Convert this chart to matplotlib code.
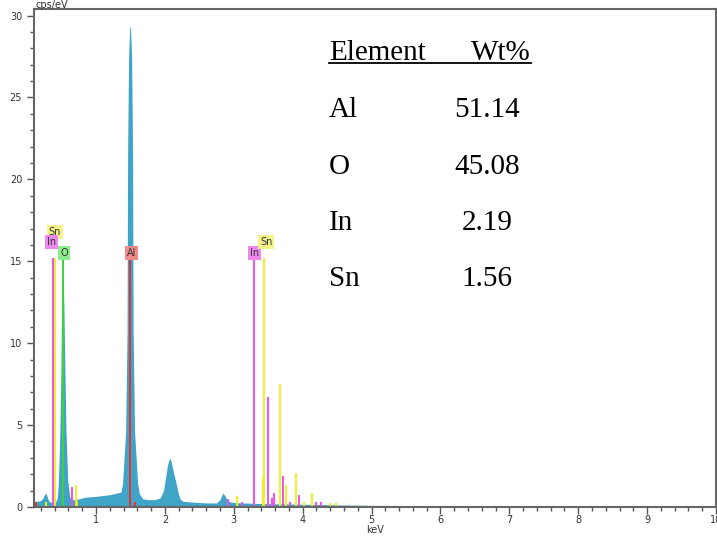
import matplotlib
matplotlib.use('Agg')
import matplotlib.pyplot as plt
from matplotlib.lines import Line2D
from matplotlib.ticker import MultipleLocator

# spectrum (keV, cps/eV)
energy = [0.10, 0.16, 0.20, 0.23, 0.25, 0.27, 0.29, 0.31, 0.33, 0.38, 0.42, 0.44, 0.455,
          0.475, 0.49, 0.50, 0.51, 0.525, 0.535, 0.55, 0.565, 0.59, 0.62, 0.65, 0.70, 0.75,
          0.85, 1.00, 1.10, 1.20, 1.30, 1.36, 1.385, 1.43, 1.451, 1.459, 1.473, 1.49,
          1.50, 1.517, 1.531, 1.539, 1.56, 1.605, 1.63, 1.68, 1.75, 1.85, 1.93, 1.98, 2.01,
          2.04, 2.07, 2.09, 2.12, 2.16, 2.19, 2.22, 2.26, 2.40, 2.60, 2.75, 2.80,
          2.84, 2.87, 2.90, 2.95, 3.10, 3.50, 4.00, 4.50, 5.00, 6.00, 7.00, 8.00,
          9.00, 10.0]
counts = [0.35, 0.35, 0.40, 0.55, 0.75, 0.85, 0.65, 0.40, 0.30, 0.30, 0.35, 0.60, 1.6,
          4.5, 8.0, 12.0, 14.0, 14.0, 12.0, 8.0, 4.5, 1.6, 0.60, 0.45, 0.45, 0.50,
          0.60, 0.65, 0.70, 0.75, 0.85, 0.90, 1.4, 4.6, 10.7, 21.7, 27.5, 29.3,
          29.3, 27.5, 21.7, 10.7, 4.6, 1.4, 0.80, 0.50, 0.45, 0.45, 0.55, 1.0, 1.8,
          2.6, 3.0, 2.8, 2.2, 1.5, 0.90, 0.50, 0.35, 0.30, 0.25, 0.25, 0.45,
          0.85, 0.70, 0.45, 0.30, 0.25, 0.20, 0.17, 0.13, 0.10, 0.08, 0.07, 0.06,
          0.05, 0.03]

# element marker lines
in_lines = [0.375, 2.92, 3.12, 3.29, 3.50, 3.55, 3.59, 3.72, 3.82, 3.94, 4.19, 4.26, 0.65]
in_heights = [15.2, 0.5, 0.3, 15.2, 6.7, 0.55, 0.85, 1.9, 0.3, 0.75, 0.3, 0.3, 1.2]
sn_lines = [0.40, 0.27, 0.705, 0.73, 3.05, 3.43, 3.445, 3.67, 3.76, 3.91, 4.02, 4.14, 4.39, 4.48]
sn_heights = [15.2, 0.3, 1.35, 0.35, 0.65, 1.85, 15.2, 7.5, 1.35, 2.05, 0.3, 0.85, 0.25, 0.25]
o_lines = [0.525]
o_heights = [15.2]
al_lines = [1.49, 0.13, 1.56]
al_heights = [15.2, 0.3, 0.3]

# label boxes
labels = ['Sn', 'In', 'O', 'Al', 'In', 'Sn']
label_x = [0.40, 0.36, 0.535, 1.51, 3.30, 3.47]
label_y = [16.8, 16.2, 15.5, 15.5, 15.5, 16.2]
label_col = ['#f4f48a', '#ee88ee', '#8eec8e', '#f08a8a', '#ee88ee', '#f4f48a']

# composition table
elements = ['Al', 'O', 'In', 'Sn']
wt = ['51.14', '45.08', '2.19', '1.56']

W, H = 717, 541
fig = plt.figure(figsize=(W / 100, H / 100), dpi=100)
ax = fig.add_axes([34 / W, 1 - 507 / H, (716 - 34) / W, (507 - 9) / H])

ax.fill_between(energy, counts, 0, color='#40a4c6', linewidth=0)
ax.vlines(in_lines, 0, in_heights, colors='#f050f0', linewidth=1.4)
ax.vlines(sn_lines, 0, sn_heights, colors='#f0f020', linewidth=1.4)
ax.vlines(o_lines, 0, o_heights, colors='#40d040', linewidth=1.4)
ax.vlines(al_lines, 0, al_heights, colors='#e83030', linewidth=1.4)

for t, x, y, c in zip(labels, label_x, label_y, label_col):
    ax.text(x, y, t, fontsize=7, ha='center', va='center', color='#333333',
            bbox=dict(facecolor=c, edgecolor='none', boxstyle='square,pad=0.2'))

ax.set_xlim(0.1, 10.0)
ax.set_ylim(0, 30.4)
ax.xaxis.set_major_locator(MultipleLocator(1))
ax.xaxis.set_minor_locator(MultipleLocator(0.2))
ax.yaxis.set_major_locator(MultipleLocator(5))
ax.yaxis.set_minor_locator(MultipleLocator(1))
ax.tick_params(which='both', direction='out', colors='#555555', labelcolor='#333333',
               labelsize=7, width=1)
ax.tick_params(which='major', length=5)
ax.tick_params(which='minor', length=3)
ax.tick_params(axis='x', which='major', pad=1)
for s in ax.spines.values():
    s.set_color('#666666')
    s.set_linewidth(1.5)

fig.text(36 / W, 1 - 5 / H, 'cps/eV', fontsize=7, color='#333333', va='center')
fig.text(375 / W, 1 - 530 / H, 'keV', fontsize=7, color='#333333', ha='center', va='center')

# table with the weight percentages
serif = 'Liberation Serif'
fig.text(329 / W, 1 - 60 / H, 'Element', fontsize=21, family=serif, va='baseline')
fig.text(531 / W, 1 - 60 / H, 'Wt%', fontsize=21, family=serif, va='baseline', ha='right')
fig.add_artist(Line2D([329 / W, 531 / W], [1 - 63 / H, 1 - 63 / H], color='black',
                      linewidth=1.3, transform=fig.transFigure))
for i, (e, v) in enumerate(zip(elements, wt)):
    yb = 1 - (117 + i * 56.5) / H
    fig.text(329 / W, yb, e, fontsize=21, family=serif, va='baseline')
    fig.text(487 / W, yb, v, fontsize=21, family=serif, va='baseline', ha='center')

fig.savefig('out.png', dpi=100)
